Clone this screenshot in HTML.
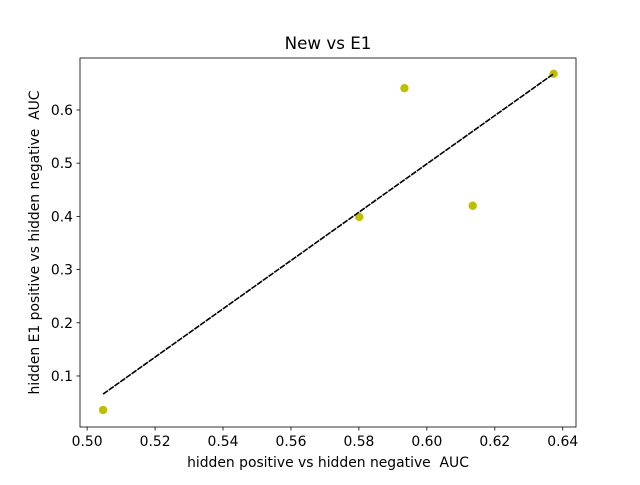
<!DOCTYPE html>
<html><head><meta charset="utf-8"><style>
body{margin:0;background:#fff;}
svg text{font-family:"DejaVu Sans","Liberation Sans",sans-serif;fill:#000;white-space:pre;}
</style></head><body>
<svg id="chart" width="640" height="480" xmlns="http://www.w3.org/2000/svg">
<rect width="640" height="480" fill="#fff"/>
<text x="328" y="49" font-size="16.7" text-anchor="middle">New vs E1</text>
<g id="plot"></g>
<rect x="80" y="58" width="496" height="369" fill="none" stroke="#000" stroke-width="0.8"/>
<text x="328" y="467" font-size="13.9" text-anchor="middle">hidden positive vs hidden negative  AUC</text>
<text transform="translate(39,242.5) rotate(-90)" font-size="13.9" text-anchor="middle">hidden E1 positive vs hidden negative  AUC</text>
</svg>
<script>
const xValues=[0.5047,0.5801,0.5934,0.6135,0.6373];
const yValues=[0.036,0.399,0.641,0.420,0.668];
const fitX=[0.5047,0.6373];
const fitY=[0.066,0.668];
const xTicks=[0.50,0.52,0.54,0.56,0.58,0.60,0.62,0.64];
const yTicks=[0.1,0.2,0.3,0.4,0.5,0.6];
const X0=80,X1=576,Y0=427,Y1=58;
const xMin=0.4979,xMax=0.6439,yMin=0.0041,yMax=0.6977;
const sx=v=>X0+(v-xMin)/(xMax-xMin)*(X1-X0);
const sy=v=>Y0-(v-yMin)/(yMax-yMin)*(Y0-Y1);
const NS="http://www.w3.org/2000/svg";
const g=document.getElementById('plot');
function mk(t,a){const e=document.createElementNS(NS,t);for(const k in a)e.setAttribute(k,a[k]);g.appendChild(e);return e;}
xTicks.forEach(t=>{
 const l=mk('line',{x1:sx(t),x2:sx(t),y1:Y0,y2:Y0+3.5,stroke:'#000','stroke-width':0.8});
 
 
 const tx=mk('text',{x:sx(t),y:Y0+19,'font-size':13.9,'text-anchor':'middle'});
 tx.textContent=t.toFixed(2);
 
 
});
yTicks.forEach(t=>{
 const l=mk('line',{x1:X0-3.5,x2:X0,y1:sy(t),y2:sy(t),stroke:'#000','stroke-width':0.8});
 
 
 const tx=mk('text',{x:X0-7,y:sy(t)+5,'font-size':13.9,'text-anchor':'end'});
 tx.textContent=t.toFixed(1);
 
 
});
xValues.forEach((v,i)=>{
 const c=mk('circle',{cx:sx(v),cy:sy(yValues[i]),r:4.2,fill:'#bfbf00'});
 
 
});
const ln=mk('line',{x1:sx(fitX[0]),y1:sy(fitY[0]),x2:sx(fitX[1]),y2:sy(fitY[1]),stroke:'#000','stroke-width':1.6,'stroke-dasharray':'6,1'});


</script>
</body></html>
